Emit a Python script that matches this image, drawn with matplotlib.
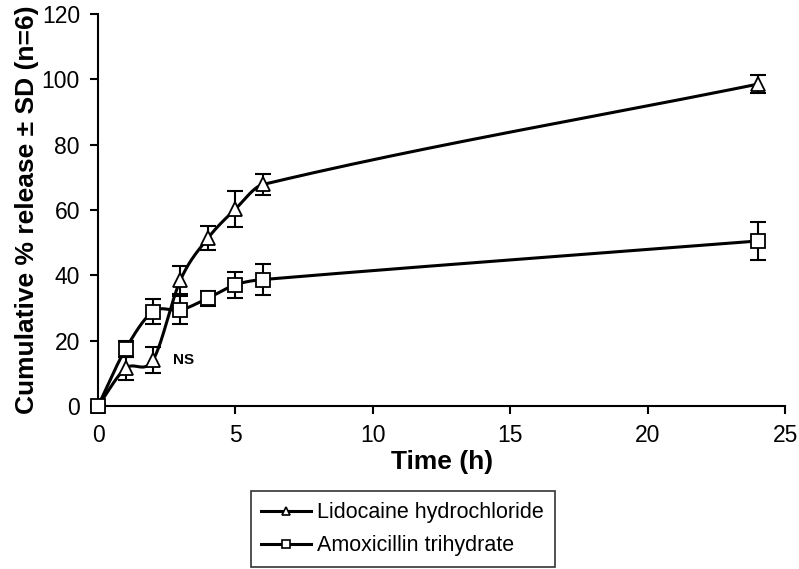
import numpy as np
import matplotlib.pyplot as plt

plt.rcParams['font.family'] = ['Liberation Sans', 'DejaVu Sans']

time_h = [0, 1, 2, 3, 4, 5, 6, 24]
lido_mean = [0, 11.5, 14.1, 38.6, 51.4, 60.3, 67.8, 98.5]
lido_sd = [0.5, 3.5, 4.0, 4.3, 3.8, 5.4, 3.3, 2.7]
amox_mean = [0, 17.4, 28.9, 29.4, 33.0, 37.1, 38.7, 50.5]
amox_sd = [0.5, 2.5, 3.9, 4.3, 2.3, 4.0, 4.7, 5.8]


def smooth(x, y, n=40):
    # cubic Hermite through the points, slopes from neighbours (smoothed line look)
    x = np.asarray(x, float)
    y = np.asarray(y, float)
    m = np.zeros_like(y)
    m[0] = (y[1] - y[0]) / (x[1] - x[0])
    m[-1] = (y[-1] - y[-2]) / (x[-1] - x[-2])
    for i in range(1, len(x) - 1):
        m[i] = (y[i + 1] - y[i - 1]) / (x[i + 1] - x[i - 1])
    xs, ys = [], []
    t = np.linspace(0, 1, n)
    for i in range(len(x) - 1):
        h = x[i + 1] - x[i]
        h00 = 2 * t ** 3 - 3 * t ** 2 + 1
        h10 = t ** 3 - 2 * t ** 2 + t
        h01 = -2 * t ** 3 + 3 * t ** 2
        h11 = t ** 3 - t ** 2
        xs.extend(x[i] + t * h)
        ys.extend(h00 * y[i] + h10 * h * m[i] + h01 * y[i + 1] + h11 * h * m[i + 1])
    return xs, ys


fig = plt.figure(figsize=(7.99, 5.69), dpi=100)
ax = fig.add_axes([0.1227, 0.2865, 0.86, 0.689])

for mean, sd, mk, lab in [(lido_mean, lido_sd, '^', 'Lidocaine hydrochloride'),
                          (amox_mean, amox_sd, 's', 'Amoxicillin trihydrate')]:
    sx, sy = smooth(time_h, mean)
    ax.plot(sx, sy, color='black', lw=2.2, zorder=2, clip_on=False)
    ax.errorbar(time_h, mean, yerr=sd, fmt='none', ecolor='black',
                elinewidth=1.5, capsize=6, capthick=1.5, zorder=3, clip_on=False)
    ax.plot(time_h, mean, linestyle='none', marker=mk, markersize=10, clip_on=False,
            markerfacecolor='white', markeredgecolor='black', mew=1.3, zorder=4)
    ax.plot([], [], color='black', lw=2.2, marker=mk, markersize=6,
            markerfacecolor='white', markeredgecolor='black', mew=1.2, label=lab)

ax.text(2.72, 14, 'NS', fontsize=11, fontweight='bold', ha='left', va='center')

ax.set_xlim(0, 25)
ax.set_ylim(0, 120)
ax.set_xticks([0, 5, 10, 15, 20, 25])
ax.set_yticks([0, 20, 40, 60, 80, 100, 120])
ax.spines['top'].set_visible(False)
ax.spines['right'].set_visible(False)
for s in ['left', 'bottom']:
    ax.spines[s].set_linewidth(1.5)
ax.tick_params(direction='out', length=6, width=1.5, labelsize=16.5, pad=7)
ax.set_xlabel('Time (h)', fontsize=19, fontweight='bold', labelpad=2)
ax.set_ylabel('Cumulative % release ± SD (n=6)', fontsize=19, fontweight='bold', labelpad=2)

leg = fig.legend(loc='lower center', bbox_to_anchor=(0.504, 0.0), fontsize=15.5,
                 frameon=True, fancybox=False, edgecolor='black', handlelength=2.3,
                 handletextpad=0.3, borderpad=0.5, labelspacing=0.55, borderaxespad=0.1)
leg.get_frame().set_linewidth(1.2)

plt.savefig('out.png', dpi=100)
